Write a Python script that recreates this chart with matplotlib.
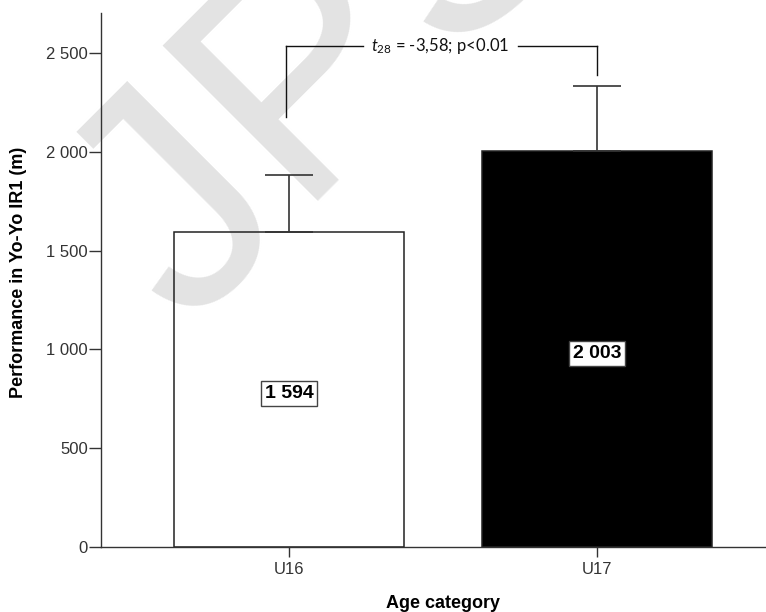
import matplotlib
matplotlib.use("Agg")
import matplotlib.pyplot as plt
from matplotlib.ticker import FuncFormatter

# ---- data ----
categories = ["U16", "U17"]
means = [1594, 2003]
sd_upper = [286, 330]
value_labels = ["1 594", "2 003"]
bar_colors = ["none", "black"]
yticks = [0, 500, 1000, 1500, 2000, 2500]
annot_text = r"$\mathit{t}_{\mathit{28}}$ = -3,58; p<0.01"
bracket_top = 2535
bracket_left_bottom = 2176
bracket_right_bottom = 2389

plt.rcParams["font.family"] = ["Liberation Sans", "DejaVu Sans"]
plt.rcParams["mathtext.fontset"] = "custom"
plt.rcParams["mathtext.rm"] = "Lato"
plt.rcParams["mathtext.it"] = "Lato:italic"

fig = plt.figure(figsize=(7.66, 6.12), dpi=100)
W, H = 766, 612
ax_l, ax_r, ax_b, ax_t = 101, 766, 547, 13
ax = fig.add_axes([ax_l / W, 1 - ax_b / H, (ax_r - ax_l) / W, (ax_b - ax_t) / H])
ax.patch.set_alpha(0)

# watermark (behind everything)
fig.text(186 / W, 1 - 329 / H, "JPS", rotation=45, rotation_mode="anchor",
         ha="left", va="baseline", fontsize=230, fontweight="normal",
         color="#e3e3e3", zorder=-5)

x = list(range(len(categories)))
ax.bar(x, means, width=0.747, color=bar_colors, edgecolor="#222222",
       linewidth=1.1, zorder=2)
ax.errorbar(x, means, yerr=[[0] * len(means), sd_upper], fmt="none",
            ecolor="#333333", elinewidth=1.2, capsize=17.3, capthick=1.2,
            zorder=3)

for xi, m, lab in zip(x, means, value_labels):
    ax.annotate(lab, (xi, m / 2), xytext=(0, -3), textcoords="offset points",
                ha="center", va="center", fontsize=14, fontweight="bold",
                color="black", zorder=4,
                bbox=dict(boxstyle="square,pad=0.2", facecolor="white",
                          edgecolor="#444444", linewidth=1.0))

# significance bracket
lc = "#111111"
ax.plot([x[0] - 0.01, x[0] - 0.01], [bracket_left_bottom, bracket_top], color=lc, lw=1.0, zorder=3)
ax.plot([x[0] - 0.01, 0.24], [bracket_top, bracket_top], color=lc, lw=1.0, zorder=3)
ax.plot([0.745, x[1]], [bracket_top, bracket_top], color=lc, lw=1.0, zorder=3)
ax.plot([x[1], x[1]], [bracket_top, bracket_right_bottom], color=lc, lw=1.0, zorder=3)
ax.text(0.492, bracket_top, annot_text, ha="center", va="center",
        fontsize=12, family="Lato", color="#111111", zorder=3)

ax.set_xlim(-0.610, 1.549)
ax.set_ylim(0, 2702)
ax.set_xticks(x)
ax.set_xticklabels(categories)
ax.set_yticks(yticks)
ax.yaxis.set_major_formatter(FuncFormatter(lambda v, p: f"{int(v):,}".replace(",", " ")))

for s in ["top", "right"]:
    ax.spines[s].set_visible(False)
for s in ["left", "bottom"]:
    ax.spines[s].set_color("#333333")
    ax.spines[s].set_linewidth(1.0)

ax.tick_params(axis="y", direction="out", length=8.5, width=1.0, color="#333333",
               labelsize=12, labelcolor="#333333", pad=1)
ax.tick_params(axis="x", direction="out", length=7, width=1.0, color="#333333",
               labelsize=12, labelcolor="#333333", pad=4)

ax.set_ylabel("Performance in Yo-Yo IR1 (m)", fontsize=13, fontweight="bold",
              va="center")
ax.yaxis.set_label_coords((19 - ax_l) / (ax_r - ax_l), (ax_b - 272) / (ax_b - ax_t))
ax.set_xlabel("Age category", fontsize=13, fontweight="bold", va="center")
ax.xaxis.set_label_coords((443 - ax_l) / (ax_r - ax_l), (ax_b - 604) / (ax_b - ax_t))

fig.savefig("out.png", dpi=100)
